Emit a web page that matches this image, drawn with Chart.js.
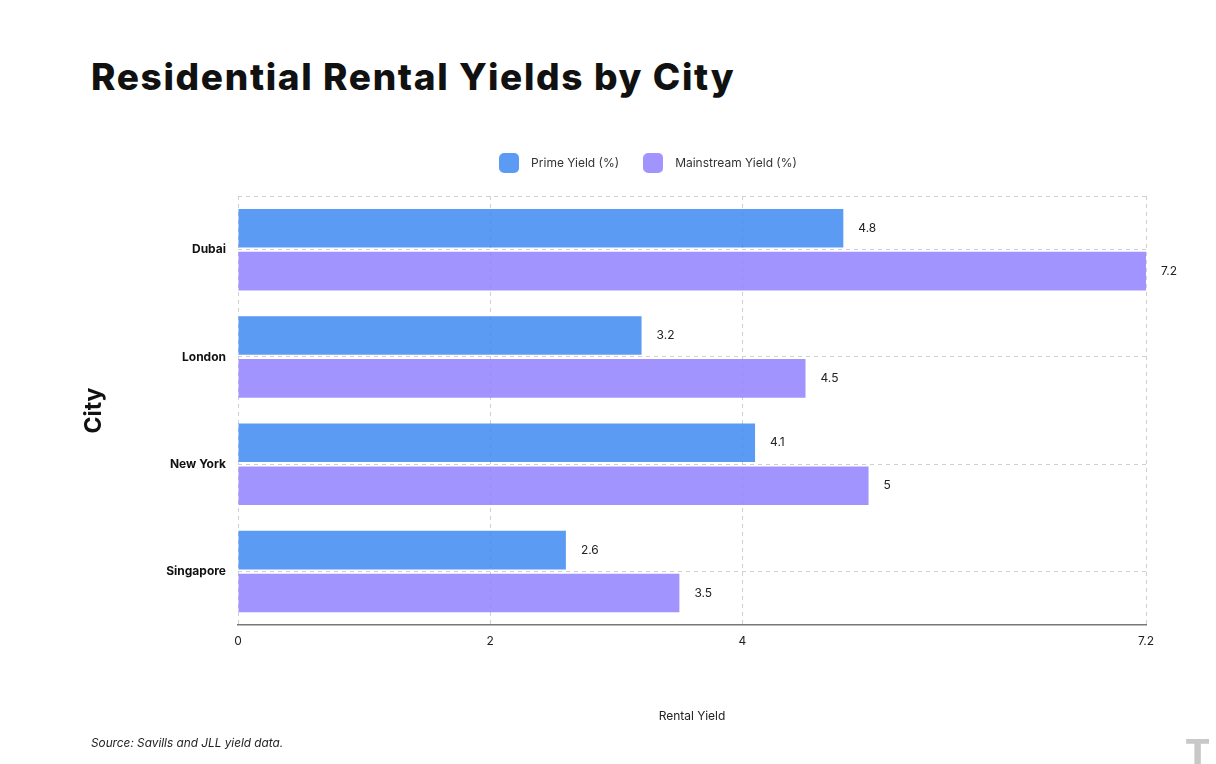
<!DOCTYPE html>
<html>
<head>
<meta charset="utf-8">
<script src="https://cdn.jsdelivr.net/npm/chart.js@4.4.1/dist/chart.umd.min.js"></script>
<style>
    body { margin: 0; background: #fff; font-family: Inter, sans-serif; }
    #wrap { position: relative; width: 1216px; height: 764px; overflow: hidden; }
    #title { position: absolute; left: 91px; top: 54px; font-family: Inter, sans-serif; font-weight: 800; font-size: 37px; color: #111; letter-spacing: 1.65px; margin: 0; }
    #source { position: absolute; left: 91px; top: 736px; font-size: 11.8px; font-style: italic; color: #222; }
    #logo { position: absolute; left: 1186px; top: 732px; font-size: 34px; font-weight: 900; color: #c8c8c8; font-family: "DejaVu Sans", sans-serif; }
    #chart { position: absolute; left: 0; top: 0; }
</style>
</head>
<body>
<div id="wrap">
    <h1 id="title">Residential Rental Yields by City</h1>
    <canvas id="chart" width="1216" height="764"></canvas>
    <div id="source">Source: Savills and JLL yield data.</div>
    <div id="logo">T</div>
</div>
<script>
// Chart data
const cities = ['Dubai', 'London', 'New York', 'Singapore'];
const primeYield = [4.8, 3.2, 4.1, 2.6];
const mainstreamYield = [7.2, 4.5, 5, 3.5];
const xTickValues = [0, 2, 4, 7.2];

const primeColor = 'rgba(62, 138, 242, 0.85)';
const mainColor = 'rgba(145, 129, 254, 0.85)';

// rounded square used as legend marker
function legendSwatch(color) {
    const c = document.createElement('canvas');
    c.width = 20;
    c.height = 20;
    const g = c.getContext('2d');
    g.fillStyle = color;
    g.beginPath();
    g.roundRect(0, 0, 20, 20, 5);
    g.fill();
    return c;
}

// Value labels at the end of each bar + top dashed border + legend placement
const barLabels = {
    id: 'barLabels',
    afterUpdate(chart) {
        const lg = chart.legend;
        const h = lg.bottom - lg.top;
        lg.left = 0;
        lg.right = 1290;
        lg.width = 1290;
        lg.top = 139;
        lg.bottom = 139 + h;
        lg.adjustHitBoxes();
    },
    beforeDatasetsDraw(chart) {
        const { ctx, chartArea } = chart;
        ctx.save();
        ctx.strokeStyle = '#cfcfcf';
        ctx.lineWidth = 1;
        ctx.setLineDash([4, 4]);
        ctx.beginPath();
        ctx.moveTo(chartArea.left, chartArea.top + 0.5);
        ctx.lineTo(chartArea.right, chartArea.top + 0.5);
        ctx.stroke();
        ctx.restore();
    },
    afterDatasetsDraw(chart) {
        const ctx = chart.ctx;
        ctx.save();
        ctx.font = '12px Inter, sans-serif';
        ctx.fillStyle = '#222';
        ctx.textAlign = 'left';
        ctx.textBaseline = 'middle';
        chart.data.datasets.forEach((ds, i) => {
            chart.getDatasetMeta(i).data.forEach((bar, j) => {
                ctx.fillText(String(ds.data[j]), bar.x + 15, bar.y);
            });
        });
        ctx.restore();
    }
};

const ctx = document.getElementById('chart').getContext('2d');
new Chart(ctx, {
    type: 'bar',
    data: {
        labels: cities,
        datasets: [{
            label: 'Prime Yield (%)',
            data: primeYield,
            backgroundColor: primeColor
        }, {
            label: 'Mainstream Yield (%)',
            data: mainstreamYield,
            backgroundColor: mainColor
        }]
    },
    plugins: [barLabels],
    options: {
        indexAxis: 'y',
        responsive: false,
        animation: false,
        layout: {
            padding: { left: 80, right: 70, top: 156, bottom: 40 }
        },
        plugins: {
            legend: {
                position: 'top',
                labels: {
                    usePointStyle: true,
                    pointStyleWidth: 32,
                    padding: 18,
                    color: '#333',
                    font: { family: 'Inter', size: 12 },
                    generateLabels: (chart) => {
                        const items = Chart.defaults.plugins.legend.labels.generateLabels(chart);
                        items.forEach((it, i) => {
                            it.pointStyle = legendSwatch(i === 0 ? primeColor : mainColor);
                        });
                        return items;
                    }
                }
            },
            tooltip: { enabled: false }
        },
        scales: {
            x: {
                min: 0,
                max: 7.2,
                afterBuildTicks: (scale) => {
                    scale.ticks = xTickValues.map(v => ({ value: v }));
                },
                grid: {
                    color: '#cfcfcf',
                    drawTicks: false
                },
                border: {
                    display: true,
                    color: '#777',
                    width: 1.5,
                    dash: [4, 4]
                },
                ticks: {
                    padding: 9,
                    color: '#222',
                    font: { family: 'Inter', size: 12 },
                    callback: (v) => String(v)
                },
                title: {
                    display: true,
                    text: 'Rental Yield',
                    color: '#222',
                    font: { family: 'Inter', size: 12 },
                    padding: { top: 52, bottom: 0 }
                }
            },
            y: {
                afterFit: (scale) => { scale.width = 158; },
                grid: {
                    offset: false,
                    color: '#cfcfcf',
                    drawTicks: false
                },
                border: { display: false, dash: [4, 4] },
                ticks: {
                    padding: 12,
                    color: '#111',
                    font: { family: 'Inter', size: 12, weight: 'bold' }
                },
                title: {
                    display: true,
                    text: 'City',
                    color: '#111',
                    font: { family: 'Inter', size: 23, weight: 'bold' },
                    padding: 0
                }
            }
        }
    }
});
</script>
</body>
</html>
